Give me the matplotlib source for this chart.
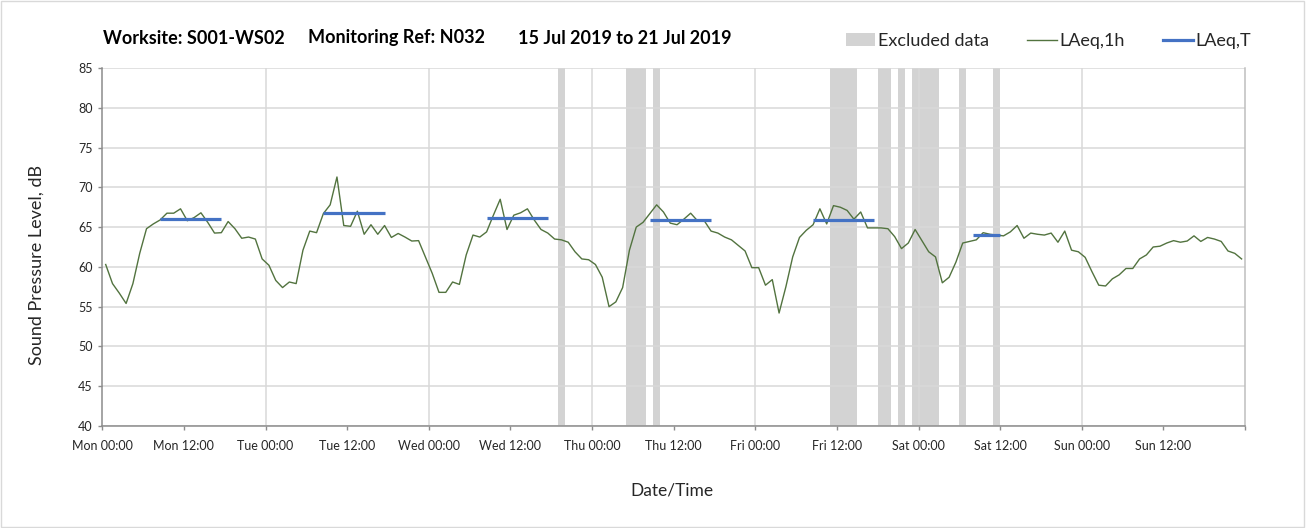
import numpy as np
import matplotlib
matplotlib.use('Agg')
import matplotlib.pyplot as plt
from matplotlib.patches import Patch, Rectangle
from matplotlib.lines import Line2D

plt.rcParams['font.family'] = ['Lato', 'DejaVu Sans']

# hourly LAeq,1h values (Mon 00:00 -> Sun 23:00)
laeq_1h = [
    60.3, 57.9, 56.7, 55.4, 57.9, 61.7, 64.8, 65.4, 65.9, 66.75,
    66.75, 67.3, 65.8, 66.2, 66.8, 65.6, 64.25, 64.3, 65.7, 64.8,
    63.6, 63.75, 63.5, 61.0, 60.2, 58.3, 57.4, 58.1, 57.9, 62.1,
    64.5, 64.3, 66.7, 67.8, 71.3, 65.2, 65.1, 67.0, 64.1, 65.3,
    64.1, 65.2, 63.7, 64.2, 63.75, 63.25, 63.3, 61.25, 59.2, 56.8,
    56.8, 58.1, 57.8, 61.5, 64.0, 63.75,
    64.4, 66.5, 68.5, 64.7, 66.5, 66.8, 67.3, 65.9, 64.7, 64.25,
    63.5, 63.4, 63.1, 61.9, 61.0, 60.9, 60.3, 58.7, 55.0, 55.6,
    57.4, 62.1, 65.0, 65.6, 66.7, 67.8, 66.9, 65.5, 65.3, 66.0,
    66.75, 65.8, 65.8, 64.5, 64.25, 63.75, 63.4, 62.7, 62.0, 59.9,
    59.9, 57.7, 58.4, 54.2, 57.5, 61.25, 63.7, 64.6, 65.3, 67.3,
    65.4, 67.7, 67.5, 67.1, 66.0, 66.9,
    64.9, 64.9, 64.9, 64.8, 63.8, 62.3, 63.0, 64.7, 63.3, 61.9,
    61.25, 58.0, 58.7, 60.6, 63.0, 63.2, 63.4, 64.3, 64.1, 64.0,
    63.9, 64.4, 65.2, 63.6, 64.25, 64.1, 64.0, 64.25, 63.1, 64.5,
    62.1, 61.9, 61.2, 59.4, 57.7, 57.6, 58.5, 59.0, 59.8, 59.8,
    61.0, 61.5, 62.5, 62.6, 63.0, 63.3, 63.1, 63.25, 63.9, 63.2,
    63.7, 63.5, 63.2, 62.0, 61.7, 61.0,
]

# excluded-data periods (hours from Mon 00:00)
excl_start = [67, 77, 81, 107, 114, 117, 119, 126, 131]
excl_end = [68, 80, 82, 111, 116, 118, 123, 127, 132]

# LAeq,T daytime values and periods (hours from Mon 00:00)
laeq_t_values = [66.0, 66.75, 66.2, 65.9, 65.9, 64.0]
laeq_t_from = [8.5, 32.5, 56.5, 80.5, 104.5, 128.0]
laeq_t_to = [17.5, 41.5, 65.5, 89.5, 113.5, 132.0]

x_tick_hours = list(range(0, 169, 12))
x_tick_labels = ['Mon 00:00', 'Mon 12:00', 'Tue 00:00', 'Tue 12:00', 'Wed 00:00',
                 'Wed 12:00', 'Thu 00:00', 'Thu 12:00', 'Fri 00:00', 'Fri 12:00',
                 'Sat 00:00', 'Sat 12:00', 'Sun 00:00', 'Sun 12:00', '']
y_ticks = [40, 45, 50, 55, 60, 65, 70, 75, 80, 85]

W, H = 1307, 528
fig = plt.figure(figsize=(W / 100, H / 100), dpi=100)
ax = fig.add_axes([102.3 / W, 1 - 426 / H, (1245 - 102.3) / W, (426 - 68) / H])

grid_c = '#d9d9d9'
axis_c = '#8c8c8c'
txt_c = '#262626'
line_c = '#52733f'
blue_c = '#4472c4'
band_c = '#d3d3d3'

for s, e in zip(excl_start, excl_end):
    ax.axvspan(s, e, color=band_c, lw=0, zorder=1)

# grid
for y in y_ticks:
    ax.axhline(y, color=grid_c, lw=1.1, zorder=1.5)
for d in range(24, 168, 24):
    ax.axvline(d, color=grid_c, lw=1.1, zorder=1.5)

hours = np.arange(len(laeq_1h)) + 0.5
ax.plot(hours, laeq_1h, color=line_c, lw=1.0, zorder=3)
ax.hlines(laeq_t_values, laeq_t_from, laeq_t_to, color=blue_c, lw=2.3, zorder=4)

ax.set_xlim(0, 168)
ax.set_ylim(40, 85)
ax.set_yticks(y_ticks)
ax.set_xticks(x_tick_hours)
ax.set_xticklabels(x_tick_labels)

ax.spines['top'].set_visible(False)
ax.spines['left'].set_color(axis_c)
ax.spines['bottom'].set_color(axis_c)
ax.spines['right'].set_color('#bfbfbf')
for sp in ax.spines.values():
    sp.set_linewidth(1.1)
ax.tick_params(axis='both', direction='out', length=3, color=axis_c,
               labelsize=9, labelcolor=txt_c, width=1.0)
ax.tick_params(axis='x', pad=7)
ax.tick_params(axis='y', pad=4)

fig.text(37 / W, 1 - 265 / H, 'Sound Pressure Level, dB', fontsize=13, color=txt_c,
         rotation=90, ha='center', va='center')
fig.text(672 / W, 1 - 490 / H, 'Date/Time', fontsize=12.5, color=txt_c,
         ha='center', va='center')

# title pieces
ty = 1 - 38 / H
fig.text(103 / W, ty, 'Worksite: S001-WS02', fontsize=13, fontweight='bold', color='black', va='center')
fig.text(308 / W, ty, 'Monitoring Ref: N032', fontsize=13, fontweight='bold', color='black', va='center')
fig.text(518 / W, ty, '15 Jul 2019 to 21 Jul 2019', fontsize=13, fontweight='bold', color='black', va='center')

handles = [Patch(facecolor=band_c, edgecolor='none', label='Excluded data'),
           Line2D([], [], color=line_c, lw=1.0, label='LAeq,1h'),
           Line2D([], [], color=blue_c, lw=2.3, label='LAeq,T')]
fig.legend(handles=handles, loc='center right', bbox_to_anchor=(1251 / W, 1 - 41 / H),
           ncol=3, frameon=False, fontsize=13, handlelength=1.65, handletextpad=0.15,
           columnspacing=2.1, labelcolor=txt_c, borderaxespad=0, borderpad=0)

fig.patches.append(Rectangle((0.001, 0.002), 0.997, 0.996, transform=fig.transFigure,
                             fill=False, edgecolor='#d9d9d9', lw=1.0))

fig.savefig('out.png', dpi=100, facecolor='white')
